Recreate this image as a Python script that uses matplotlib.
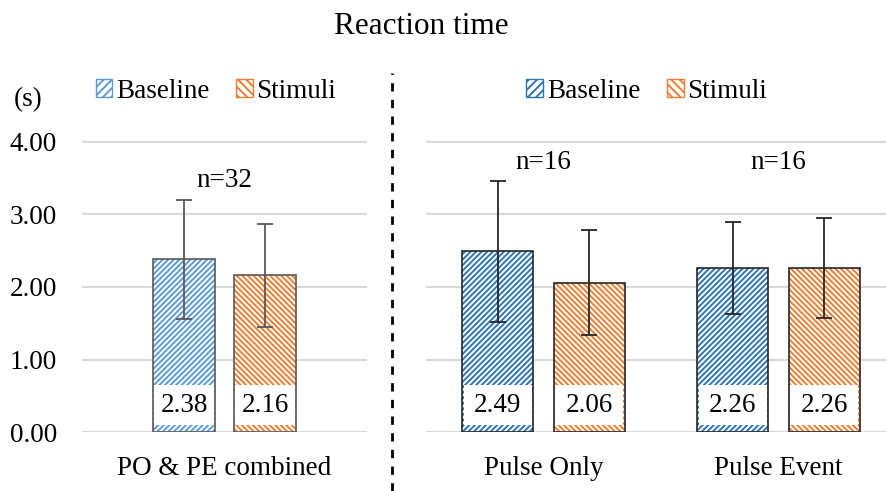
import matplotlib
matplotlib.use("Agg")
import matplotlib.pyplot as plt
from matplotlib.patches import Patch
from matplotlib.lines import Line2D
import numpy as np

plt.rcParams['font.family'] = ['Liberation Serif', 'DejaVu Serif']
plt.rcParams['hatch.linewidth'] = 1.4

# data
left_cats = ["PO & PE combined"]
left_base = [2.38]
left_stim = [2.16]
left_base_sd = [0.82]
left_stim_sd = [0.71]
left_n = ["n=32"]

right_cats = ["Pulse Only", "Pulse Event"]
right_base = [2.49, 2.26]
right_stim = [2.06, 2.26]
right_base_sd = [0.97, 0.63]
right_stim_sd = [0.72, 0.69]
right_n = ["n=16", "n=16"]

yticks = [0, 1, 2, 3, 4]
FS = 19.5


def draw_panel(ax, cats, base, stim, base_sd, stim_sd, ns, width, off,
               blue, edge, errc, n_y):
    x = np.arange(len(cats))
    for xs, vals, sds, col, hatch in [(x - off, base, base_sd, blue, '//////'),
                                      (x + off, stim, stim_sd, '#ED7D31', '\\\\\\\\\\\\')]:
        ax.bar(xs, vals, width, color='white', edgecolor=col, hatch=hatch, lw=0, zorder=2)
        ax.bar(xs, 0.55, width * 0.96, bottom=0.1, color='white', lw=0, zorder=3)
        ax.bar(xs, vals, width, fill=False, edgecolor=edge, lw=1.2, zorder=4)
        ax.errorbar(xs, vals, yerr=sds, fmt='none', ecolor=errc, elinewidth=1.3,
                    capsize=6, capthick=1.3, zorder=5)
        for xi, v in zip(xs, vals):
            ax.text(xi, 0.37, f"{v:.2f}", ha='center', va='center', fontsize=FS, zorder=6)
    for xi, t, ny in zip(x, ns, n_y):
        ax.text(xi, ny, t, ha='center', va='center', fontsize=FS)
    ax.set_xticks(x)
    ax.set_xticklabels(cats, fontsize=FS)
    ax.set_xlim(-0.5, len(cats) - 0.5)
    ax.set_ylim(0, 4.75)
    ax.set_yticks(yticks)
    ax.grid(axis='y', color='#d9d9d9', lw=1.5, zorder=0)
    ax.set_axisbelow(True)
    for s in ax.spines.values():
        s.set_visible(False)
    ax.tick_params(length=0)
    ax.tick_params(axis='x', pad=17)
    handles = [Patch(facecolor='white', edgecolor=blue, hatch='////'),
               Patch(facecolor='white', edgecolor='#ED7D31', hatch='\\\\\\\\')]
    ax.legend(handles, ["Baseline", "Stimuli"], loc='center', bbox_to_anchor=(0.47, 0.99),
              ncol=2, frameon=False, fontsize=FS, handlelength=0.6, handleheight=0.6,
              handletextpad=0.15, columnspacing=1.0)


fig = plt.figure(figsize=(8.86, 4.91), dpi=100)
h = 4.75 * 72.5 / 491
axL = fig.add_axes([82 / 886, 59 / 491, 285 / 886, h])
axR = fig.add_axes([426 / 886, 59 / 491, 470 / 886, h])

draw_panel(axL, left_cats, left_base, left_stim, left_base_sd, left_stim_sd, left_n,
           0.22, 0.142, '#5B9BD5', '#595959', '#595959', [3.47])
draw_panel(axR, right_cats, right_base, right_stim, right_base_sd, right_stim_sd, right_n,
           0.30, 0.195, '#2E75B6', '#262626', '#262626', [3.72, 3.72])

axL.set_yticklabels([f"{t:.2f}" for t in yticks], fontsize=FS)
axL.tick_params(axis='y', pad=18)
axR.set_yticklabels([])
fig.text(28 / 886, 1 - 100 / 491, "(s)", fontsize=FS, ha='center', va='center')

fig.text(0.476, 1 - 27 / 491, "Reaction time", ha='center', va='center', fontsize=22.5)
fig.add_artist(Line2D([392 / 886, 392 / 886], [0, 418 / 491], transform=fig.transFigure,
                      color='black', lw=2, ls=(0, (3, 3))))

fig.savefig("out.png", dpi=100)
